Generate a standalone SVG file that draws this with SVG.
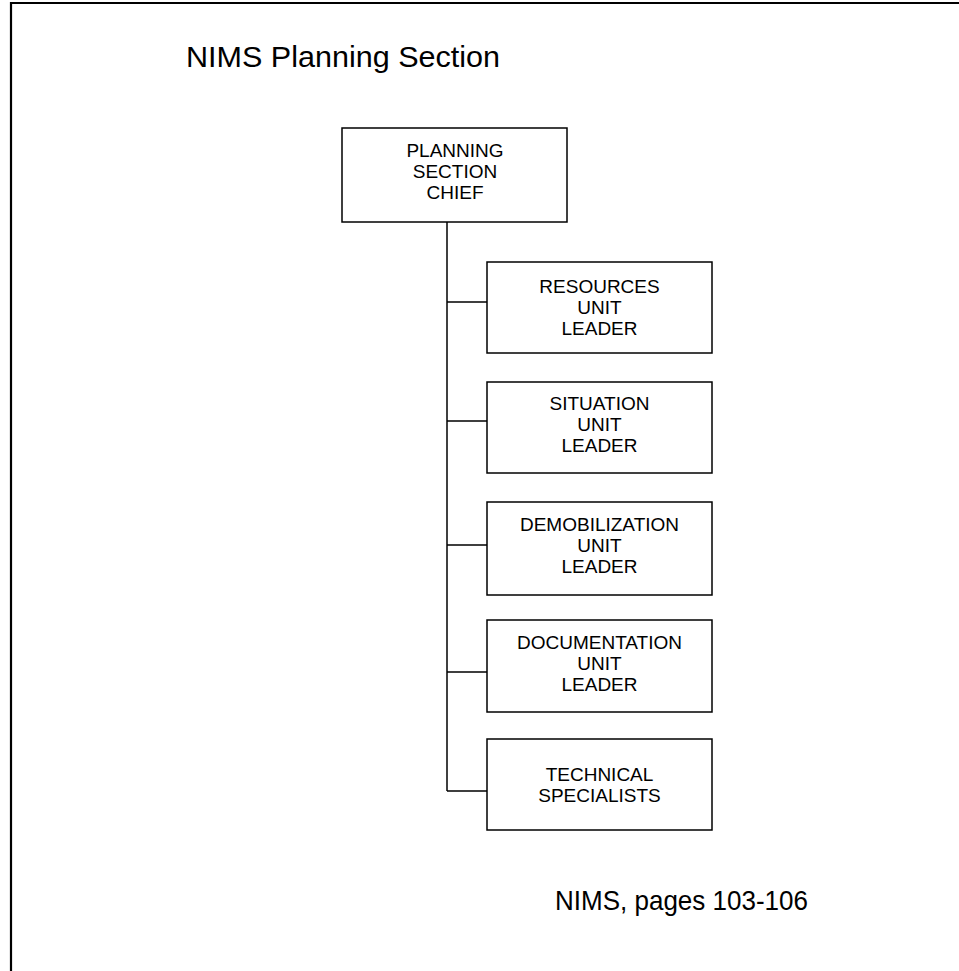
<svg xmlns="http://www.w3.org/2000/svg" width="959" height="971" viewBox="0 0 959 971">
<style>
.box{fill:#fff;stroke:#000;stroke-width:1.5}
.t{font-family:"Liberation Sans",Arial,sans-serif;font-size:19px;fill:#000;text-anchor:middle}
.c{fill:none;stroke:#000;stroke-width:1.5}
</style>
<rect width="959" height="971" fill="#fff"/>
<path d="M11,971 V3 H959" fill="none" stroke="#000" stroke-width="2.2"/>
<text x="186" y="67" font-family="Liberation Sans,Arial,sans-serif" font-size="29.5" textLength="314" lengthAdjust="spacingAndGlyphs">NIMS Planning Section</text>
<g id="connectors">
<path class="c" d="M447,222 V791"/>
<path class="c" d="M447,302 H487 M447,421 H487 M447,545 H487 M447,672 H487 M447,791 H487"/>
</g>
<g id="chief">
<rect class="box" x="342" y="128" width="225" height="94"/>
<text class="t" x="455" y="157">PLANNING</text>
<text class="t" x="455" y="178">SECTION</text>
<text class="t" x="455" y="199">CHIEF</text>
</g>
<g id="resources">
<rect class="box" x="487" y="262" width="225" height="91"/>
<text class="t" x="599.5" y="293">RESOURCES</text>
<text class="t" x="599.5" y="314">UNIT</text>
<text class="t" x="599.5" y="335">LEADER</text>
</g>
<g id="situation">
<rect class="box" x="487" y="382" width="225" height="91"/>
<text class="t" x="599.5" y="410">SITUATION</text>
<text class="t" x="599.5" y="431">UNIT</text>
<text class="t" x="599.5" y="452">LEADER</text>
</g>
<g id="demobilization">
<rect class="box" x="487" y="502" width="225" height="93"/>
<text class="t" x="599.5" y="531">DEMOBILIZATION</text>
<text class="t" x="599.5" y="552">UNIT</text>
<text class="t" x="599.5" y="573">LEADER</text>
</g>
<g id="documentation">
<rect class="box" x="487" y="620" width="225" height="92"/>
<text class="t" x="599.5" y="649">DOCUMENTATION</text>
<text class="t" x="599.5" y="670">UNIT</text>
<text class="t" x="599.5" y="691">LEADER</text>
</g>
<g id="technical">
<rect class="box" x="487" y="739" width="225" height="91"/>
<text class="t" x="599.5" y="781">TECHNICAL</text>
<text class="t" x="599.5" y="802">SPECIALISTS</text>
</g>
<text x="555" y="910" font-family="Liberation Sans,Arial,sans-serif" font-size="28" textLength="253" lengthAdjust="spacingAndGlyphs">NIMS, pages 103-106</text>
</svg>
